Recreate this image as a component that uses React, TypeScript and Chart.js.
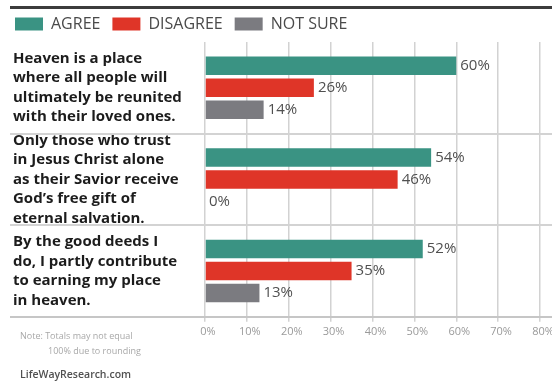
import React, { useEffect, useRef } from "react";
import { Chart, registerables } from "chart.js";

Chart.register(...registerables);

const FONT = "'Open Sans', 'DejaVu Sans', sans-serif";

const categories: string[][] = [
  ["Heaven is a place", "where all people will", "ultimately be reunited", "with their loved ones."],
  ["Only those who trust", "in Jesus Christ alone", "as their Savior receive", "God\u2019s free gift of", "eternal salvation."],
  ["By the good deeds I", "do, I partly contribute", "to earning my place", "in heaven."],
];
const seriesNames = ["AGREE", "DISAGREE", "NOT SURE"];
const agree = [60, 54, 52];
const disagree = [26, 46, 35];
const notSure = [14, 0, 13];
const seriesColors = ["#3a9383", "#df3528", "#7b7b80"];
const xMin = 0;
const xMax = 80;
const xStep = 10;
const noteLines = ["Note: Totals may not equal", "100% due to rounding"];
const sourceText = "LifeWayResearch.com";

const decorPlugin = {
  id: "decor",
  afterLayout(chart: any) {
    if (chart.legend) chart.legend.left = 3;
  },
  beforeDatasetsDraw(chart: any) {
    const { ctx, chartArea, scales } = chart;
    const y = scales.y;
    const w = chart.width;
    ctx.save();
    // top rule
    ctx.strokeStyle = "#3c3c3c";
    ctx.lineWidth = 3;
    ctx.beginPath();
    ctx.moveTo(10, 7.5);
    ctx.lineTo(w, 7.5);
    ctx.stroke();
    // separators between categories
    ctx.strokeStyle = "#d3d3d3";
    ctx.lineWidth = 2;
    for (let i = 0; i < categories.length - 1; i++) {
      const yy = Math.round((y.getPixelForValue(i) + y.getPixelForValue(i + 1)) / 2);
      ctx.beginPath();
      ctx.moveTo(10, yy);
      ctx.lineTo(w, yy);
      ctx.stroke();
    }
    // bottom axis rule
    ctx.strokeStyle = "#c6c6c6";
    ctx.beginPath();
    ctx.moveTo(10, Math.round(chartArea.bottom));
    ctx.lineTo(w, Math.round(chartArea.bottom));
    ctx.stroke();
    ctx.restore();
  },
  afterDatasetsDraw(chart: any) {
    const { ctx } = chart;
    ctx.save();
    ctx.font = `15px ${FONT}`;
    ctx.fillStyle = "#505050";
    ctx.textAlign = "left";
    ctx.textBaseline = "middle";
    chart.data.datasets.forEach((ds: any, i: number) => {
      const meta = chart.getDatasetMeta(i);
      meta.data.forEach((bar: any, j: number) => {
        ctx.fillText(`${ds.data[j]}%`, bar.x + 4, bar.y);
      });
    });
    ctx.restore();
  },
  afterDraw(chart: any) {
    const { ctx } = chart;
    ctx.save();
    ctx.textAlign = "left";
    ctx.textBaseline = "middle";
    ctx.font = `9px ${FONT}`;
    ctx.fillStyle = "#a8a8a8";
    ctx.fillText(noteLines[0], 20, 336);
    ctx.fillText(noteLines[1], 48, 351);
    ctx.font = `600 10.5px ${FONT}`;
    ctx.fillStyle = "#505050";
    ctx.fillText(sourceText, 20, 375);
    ctx.restore();
  },
};

export default function App() {
  const ref = useRef<HTMLCanvasElement | null>(null);
  useEffect(() => {
    if (!ref.current) return;
    const series = [agree, disagree, notSure];
    const chart = new Chart(ref.current, {
      type: "bar",
      data: {
        labels: categories as any,
        datasets: series.map((data, i) => ({
          label: seriesNames[i],
          data,
          backgroundColor: seriesColors[i],
          borderWidth: 0,
          categoryPercentage: 0.72,
          barPercentage: 0.84,
        })),
      },
      options: {
        animation: false,
        responsive: false,
        devicePixelRatio: 1,
        indexAxis: "y",
        font: { family: FONT } as any,
        layout: { padding: { left: 13, top: 4, right: 60, bottom: 42 } },
        plugins: {
          legend: {
            position: "top",
            align: "start",
            labels: {
              boxWidth: 28,
              boxHeight: 13,
              padding: 12,
              color: "#4a4a4a",
              font: { size: 16, family: FONT },
            },
          },
          tooltip: { enabled: false },
        },
        scales: {
          x: {
            min: xMin,
            max: xMax,
            ticks: {
              stepSize: xStep,
              callback: (v: any) => `${v}%`,
              color: "#9a9a9a",
              font: { size: 11, family: FONT },
              padding: 3,
              labelOffset: 3,
              maxRotation: 0,
              autoSkip: false,
            },
            grid: { color: "#d2d2d2", lineWidth: 1.5, tickLength: 5, drawTicks: true },
            border: { display: false },
            afterFit(scale: any) {
              scale.paddingLeft = 0;
              scale.paddingRight = 0;
            },
          },
          y: {
            ticks: {
              crossAlign: "far",
              color: "#1c1c1c",
              font: { size: 15, weight: "bold", lineHeight: 1.3, family: FONT },
              autoSkip: false,
            },
            grid: { display: false },
            border: { display: false },
            afterFit(scale: any) {
              scale.width = 192;
              scale.paddingTop = 0;
              scale.paddingBottom = 0;
            },
          },
        },
      } as any,
      plugins: [decorPlugin],
    });
    return () => chart.destroy();
  }, []);
  return (
    <div
      style={{
        position: "fixed",
        left: 0,
        top: 0,
        width: 552,
        height: 383,
        overflow: "hidden",
        background: "#ffffff",
      }}
    >
      <canvas ref={ref} width={600} height={383} style={{ display: "block" }} />
    </div>
  );
}
